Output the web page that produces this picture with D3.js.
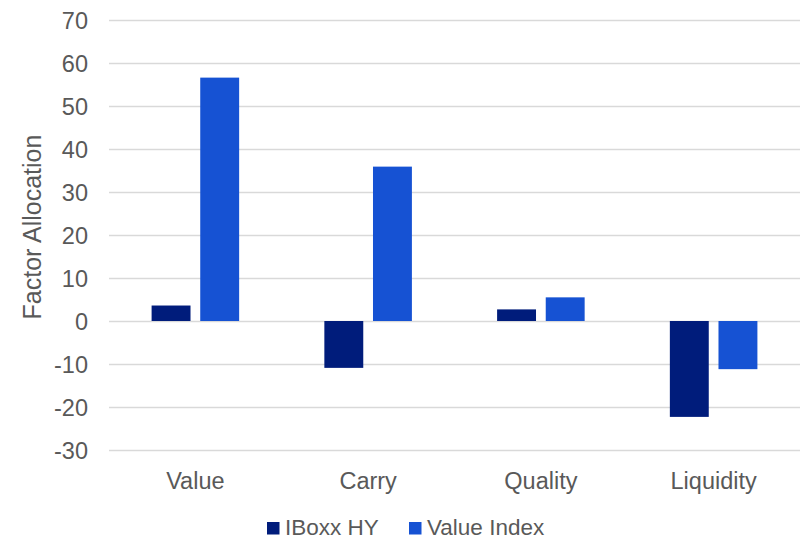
<!DOCTYPE html>
<html>
<head>
<meta charset="utf-8">
<script src="https://cdn.jsdelivr.net/npm/d3@7"></script>
<style>
  html, body { margin: 0; padding: 0; background: #fff; }
  svg text { font-family: "Liberation Sans", Arial, sans-serif; fill: #595959; }
</style>
</head>
<body>
<svg id="chart" width="802" height="540"></svg>
<script>
// Factor allocation by factor, two portfolios
const categories = ["Value", "Carry", "Quality", "Liquidity"];
const seriesNames = ["IBoxx HY", "Value Index"];
const iboxxHY = [3.6, -10.9, 2.7, -22.3];
const valueIndex = [56.6, 35.9, 5.5, -11.2];
const yTicks = [-30, -20, -10, 0, 10, 20, 30, 40, 50, 60, 70];
const colors = ["#001c7b", "#1652d3"];

const svg = d3.select("#chart");
const margin = { left: 109, right: 2, top: 20, bottom: 90 };
const width = 802, height = 540;
const fontSize = 23.5;

const x = d3.scaleBand()
  .domain(categories)
  .range([margin.left, width - margin.right])
  .paddingInner(0.4932)
  .paddingOuter(0.2466);

const xSeries = d3.scaleBand()
  .domain(seriesNames)
  .range([0, x.bandwidth()])
  .paddingInner(0.2);

const y = d3.scaleLinear()
  .domain([-30, 70])
  .range([height - margin.bottom, margin.top]);

// horizontal gridlines with plain hyphen-minus labels
const yAxis = d3.axisLeft(y)
  .tickValues(yTicks)
  .tickSize(-(width - margin.right - margin.left))
  .tickPadding(21)
  .tickFormat(d => String(d));

const gy = svg.append("g")
  .attr("transform", `translate(${margin.left},0)`)
  .call(yAxis);
gy.select(".domain").remove();
gy.selectAll(".tick line").attr("stroke", "#d9d9d9").attr("stroke-width", 1.3);
gy.selectAll(".tick text")
  .attr("font-size", fontSize)
  .attr("fill", "#595959")
  .attr("font-family", "'Liberation Sans', Arial, sans-serif")
  .attr("dy", "0.35em");

// bars
const data = categories.map((c, i) => ({ cat: c, vals: [iboxxHY[i], valueIndex[i]] }));
const groups = svg.append("g").selectAll("g")
  .data(data)
  .join("g")
  .attr("transform", d => `translate(${x(d.cat)},0)`);

groups.selectAll("rect")
  .data(d => d.vals.map((v, j) => ({ name: seriesNames[j], v, j })))
  .join("rect")
  .attr("x", d => xSeries(d.name))
  .attr("width", xSeries.bandwidth())
  .attr("y", d => y(Math.max(0, d.v)))
  .attr("height", d => Math.abs(y(d.v) - y(0)))
  .attr("fill", d => colors[d.j]);

// category labels
const xAxis = d3.axisBottom(x).tickSize(0).tickPadding(0);
const gx = svg.append("g")
  .attr("transform", `translate(0,${y(-30) + 39})`)
  .call(xAxis);
gx.select(".domain").remove();
gx.selectAll(".tick text")
  .attr("font-size", fontSize)
  .attr("fill", "#595959")
  .attr("font-family", "'Liberation Sans', Arial, sans-serif")
  .attr("dy", "0");

// y-axis title
svg.append("text")
  .attr("transform", `translate(41,227) rotate(-90)`)
  .attr("text-anchor", "middle")
  .attr("font-size", 25)
  .text("Factor Allocation");

// legend
const legendItems = [
  { name: seriesNames[0], color: colors[0], x: 267 },
  { name: seriesNames[1], color: colors[1], x: 409 }
];
const lg = svg.append("g");
legendItems.forEach(it => {
  lg.append("rect")
    .attr("x", it.x).attr("y", 522)
    .attr("width", 12.5).attr("height", 12.5)
    .attr("fill", it.color);
  lg.append("text")
    .attr("x", it.x + 18).attr("y", 535)
    .attr("font-size", 22.5)
    .text(it.name);
});
</script>
</body>
</html>
